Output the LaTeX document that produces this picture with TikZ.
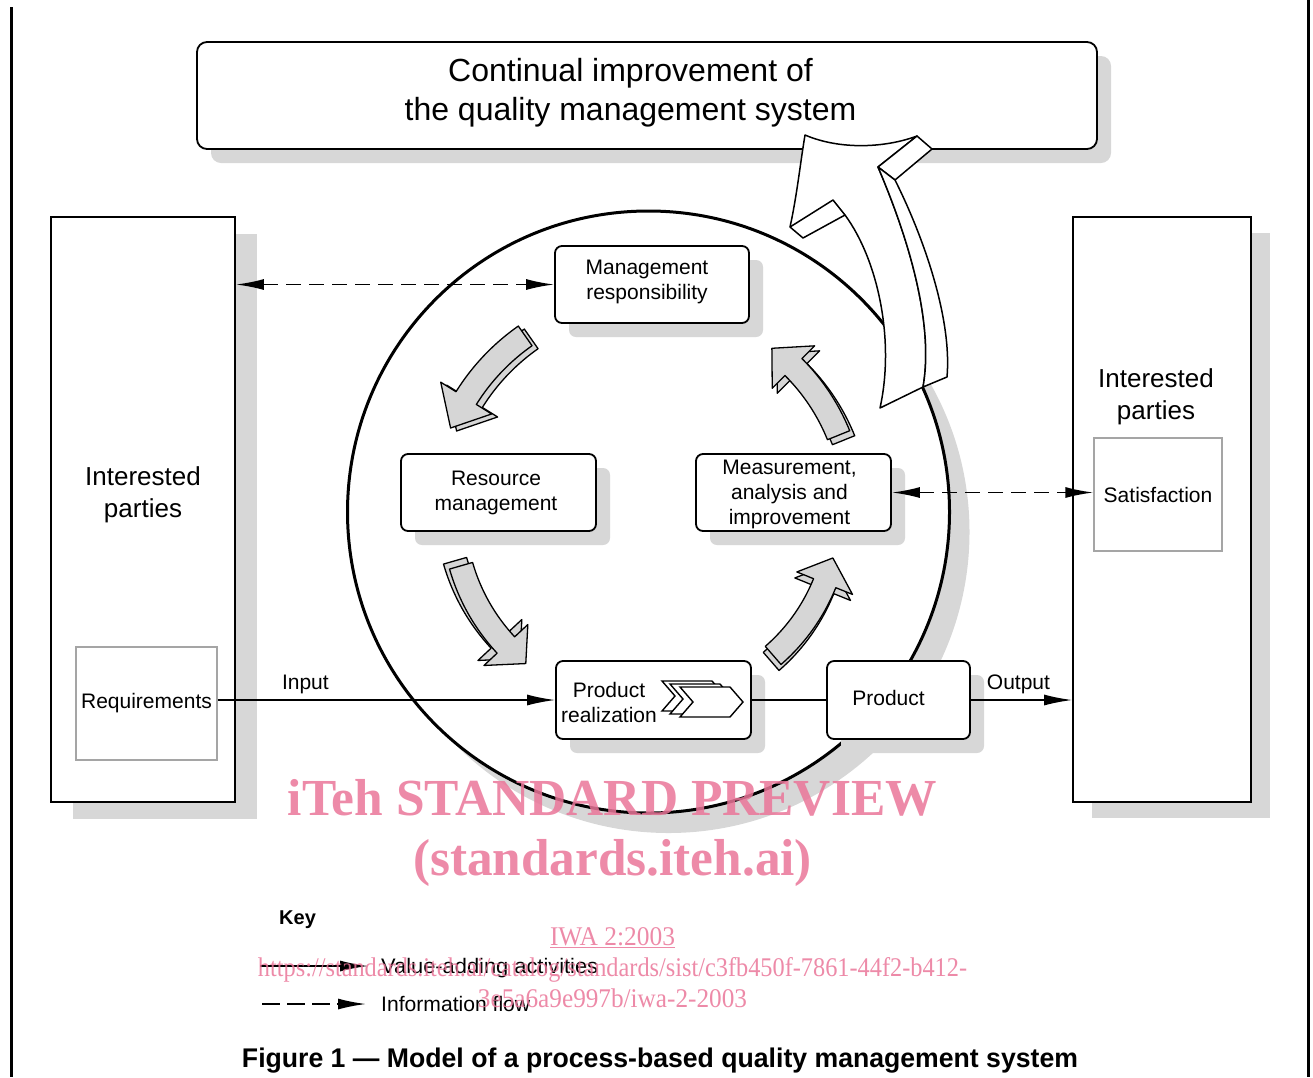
\documentclass[tikz,border=0pt]{standalone}
\usepackage{fontspec}
\usepackage{graphicx}
\setmainfont{Liberation Sans}
\newfontfamily\wmfont{Liberation Serif}
\usetikzlibrary{arrows.meta,shadows}

\definecolor{shadowgray}{RGB}{215,215,215}
\definecolor{arrowgray}{RGB}{214,214,214}
\definecolor{framegray}{RGB}{165,165,165}
\definecolor{wmpink}{RGB}{234,118,153}

% curved block arrow on a circle round (#1,#2), radius #3,
% body from angle #4 to #5, head tip at angle #6, style #7
\newcommand{\cyclearrow}[7]{%
  \filldraw[#7] plot[domain=#4:#5, samples=30] ({#1+(#3+12)*cos(\x)},{#2-(#3+12)*sin(\x)})
    -- ({#1+(#3+30)*cos(#5)},{#2-(#3+30)*sin(#5)})
    -- ({#1+#3*cos(#6)},{#2-#3*sin(#6)})
    -- ({#1+(#3-30)*cos(#5)},{#2-(#3-30)*sin(#5)})
    -- plot[domain=#5:#4, samples=30] ({#1+(#3-12)*cos(\x)},{#2-(#3-12)*sin(\x)})
    -- cycle;}

% chevron with top-left corner at (#1,#2)
\newcommand{\chevron}[2]{%
  \filldraw[fill=white, draw=black, line width=1.4pt, line join=miter]
    (#1,#2) -- ++(50,0) -- ++(13,15) -- ++(-13,15) -- ++(-50,0) -- ++(13,-15) -- cycle;}

\begin{document}
\begin{tikzpicture}[x=1pt,y=-1pt,
  txt/.style={font=\fontsize{21}{25}\selectfont, align=center, inner sep=0pt},
  qbox/.style={draw, line width=1.8pt, rounded corners=7pt, fill=white, inner sep=0pt,
    txt, drop shadow={shadow xshift=14pt, shadow yshift=-14pt, fill=shadowgray, opacity=1}},
  tallbox/.style={draw, line width=1.8pt, fill=white, inner sep=0pt},
  partybox/.style={draw=framegray, line width=1.3pt, fill=white, inner sep=0pt, txt},
  bigtxt/.style={font=\fontsize{26}{32}\selectfont, align=center, inner sep=0pt},
  flow/.style={line width=1.5pt, -{Latex[length=28pt,width=11pt]}},
  info/.style={line width=1.8pt, dash pattern=on 15pt off 8pt,
    {Latex[length=28pt,width=11pt]}-{Latex[length=28pt,width=11pt]}},
  arrowbody/.style={fill=arrowgray, draw=black, line width=1.3pt, line join=round},
  bigarrow/.style={fill=white, draw=black, line width=1.5pt, line join=round},
  wm/.style={text=wmpink, text opacity=0.85, inner sep=0pt, anchor=base}
]
\useasboundingbox (0,0) rectangle (1313,1077);

% page rules
\draw[line width=3pt] (11,7) -- (11,1077);
\draw[line width=3pt] (1308,0) -- (1308,1077);

% continual improvement banner
\node[qbox, minimum width=900pt, minimum height=107pt, rounded corners=10pt] (cimp) at (647,95.5) {};
\node[font=\fontsize{32}{39}\selectfont, align=center, inner sep=0pt] (cimptxt) at (630.5,92.5)
  {Continual improvement of\\the quality management system};

% interested parties columns
\node[tallbox, minimum width=184pt, minimum height=585pt,
  drop shadow={shadow xshift=22pt, shadow yshift=-17pt, fill=shadowgray, opacity=1}] (lpart) at (143,509.5) {};
\node[tallbox, minimum width=178pt, minimum height=585pt,
  drop shadow={shadow xshift=19pt, shadow yshift=-16pt, fill=shadowgray, opacity=1}] (rpart) at (1162,509.5) {};
\node[bigtxt] (ltxt) at (143,495) {Interested\\parties};
\node[bigtxt] (rtxt) at (1156,397) {Interested\\parties};
\node[partybox, minimum width=141pt, minimum height=113pt] (req) at (146.5,703.5) {Requirements};
\node[partybox, minimum width=128pt, minimum height=113pt] (sat) at (1158,494.5) {Satisfaction};

% process cycle
\node[circle, draw, line width=3pt, fill=white, minimum size=602pt, inner sep=0pt,
  drop shadow={shadow xshift=20pt, shadow yshift=-20pt, fill=shadowgray, opacity=1}] (cyc) at (648.5,512) {};

\node[qbox, minimum width=194pt, minimum height=77pt] (mgmt) at (652,284.5) {};
\node[qbox, minimum width=195pt, minimum height=77pt] (res) at (498.5,492.5) {};
\node[qbox, minimum width=195pt, minimum height=77pt] (meas) at (793.5,492.5) {};
\node[qbox, minimum width=195pt, minimum height=78pt] (preal) at (653.5,700) {};
\node[qbox, minimum width=143pt, minimum height=78pt] (prod) at (898.5,700) {};
\node[txt] (mgmttxt) at (647,281.5) {Management\\responsibility};
\node[txt] (restxt) at (496,493) {Resource\\management};
\node[txt] (meastxt) at (789.5,494) {Measurement,\\analysis and\\improvement};
\node[txt] (prealtxt) at (609,702.5) {Product\\realization};
\node[txt] (prodtxt) at (888.5,698) {Product};

% stacked chevrons of product realization
\chevron{662}{681}
\chevron{670}{684}
\chevron{680}{687}

% value-adding cycle arrows, each with its thickness behind it
\begin{scope}[shift={(6,3)}]\cyclearrow{648.5}{512}{215}{125}{148}{157}{arrowbody}\end{scope}
\cyclearrow{648.5}{512}{215}{125}{148}{157}{arrowbody}
\begin{scope}[shift={(-6,-5)}]\cyclearrow{648.5}{512}{195}{196}{223}{231}{arrowbody}\end{scope}
\cyclearrow{648.5}{512}{195}{196}{223}{231}{arrowbody}
\begin{scope}[shift={(-2,6)}]\cyclearrow{648.5}{512}{190}{311}{338}{346}{arrowbody}\end{scope}
\cyclearrow{648.5}{512}{190}{311}{338}{346}{arrowbody}
\begin{scope}[shift={(5,5)}]\cyclearrow{648.5}{512}{205}{22}{45}{53}{arrowbody}\end{scope}
\cyclearrow{648.5}{512}{205}{22}{45}{53}{arrowbody}

% large improvement arrow rising into the banner
\filldraw[bigarrow] (805,135) .. controls (840,150) and (885,148) .. (917,136)
  -- (878,167) .. controls (905,230) and (935,320) .. (923,387)
  -- (880,408) .. controls (895,340) and (878,260) .. (845,215)
  -- (803,238) -- (790,227) .. controls (797,195) and (800,165) .. (805,135) -- cycle;
\filldraw[bigarrow] (917,136) -- (932,149) -- (895,180) -- (878,167) -- cycle;
\filldraw[bigarrow] (878,167) -- (895,180) .. controls (925,240) and (952,320) .. (947,377)
  -- (923,387) .. controls (935,320) and (905,230) .. (878,167) -- cycle;
\draw[bigarrow, fill=none] (790,227) -- (833,200) -- (845,215);

% value-adding flow
\draw[flow] (req.east |- preal.west) -- node[pos=0.26, anchor=base, yshift=11pt, txt] {Input} (preal.west);
\draw[line width=1.5pt] (preal.east) -- (prod.west);
\draw[flow] (prod.east) -- node[pos=0.47, anchor=base, yshift=11pt, txt] {Output} (rpart.west |- prod.east);

% information flow
\draw[info] (lpart.east |- mgmt.west) -- (mgmt.west);
\draw[info] (meas.east) -- (sat.west |- meas.east);

% key
\node[font=\bfseries\fontsize{20}{24}\selectfont, anchor=base west, inner sep=0pt] (keyhead) at (279,924) {Key};
\coordinate (ka) at (260,966);
\coordinate (kb) at (368,966);
\coordinate (kc) at (262,1004);
\coordinate (kd) at (366,1004);
\draw[flow] (ka) -- (kb);
\draw[line width=1.8pt, dash pattern=on 18pt off 7pt, -{Latex[length=28pt,width=11pt]}] (kc) -- (kd);
\node[anchor=base west, inner sep=0pt] (kv) at (381,973)
  {\resizebox{217pt}{\height}{\fontsize{21}{25}\selectfont Value-adding activities}};
\node[anchor=base west, inner sep=0pt] (ki) at (381,1011)
  {\resizebox{149pt}{\height}{\fontsize{21}{25}\selectfont Information flow}};

% caption
\node[anchor=base, inner sep=0pt] (cap) at (660,1067)
  {\resizebox{836pt}{\height}{\bfseries\fontsize{27}{30}\selectfont Figure 1 — Model of a process-based quality management system}};

% watermark
\node[wm] (wm1) at (612.5,815)
  {\resizebox{649pt}{\height}{\wmfont\bfseries\fontsize{52}{56}\selectfont iTeh STANDARD PREVIEW}};
\node[wm] (wm2) at (612.5,875)
  {\resizebox{399pt}{\height}{\wmfont\bfseries\fontsize{52}{56}\selectfont (standards.iteh.ai)}};
\node[wm] (wm3) at (612.5,945)
  {\resizebox{125pt}{\height}{\wmfont\fontsize{27}{30}\selectfont\underline{IWA 2:2003}}};
\node[wm] (wm4) at (612.5,976)
  {\resizebox{709pt}{\height}{\wmfont\fontsize{27}{30}\selectfont https://standards.iteh.ai/catalog/standards/sist/c3fb450f-7861-44f2-b412-}};
\node[wm] (wm5) at (612.5,1007)
  {\resizebox{269pt}{\height}{\wmfont\fontsize{27}{30}\selectfont 3e5a6a9e997b/iwa-2-2003}};
\end{tikzpicture}
\end{document}
